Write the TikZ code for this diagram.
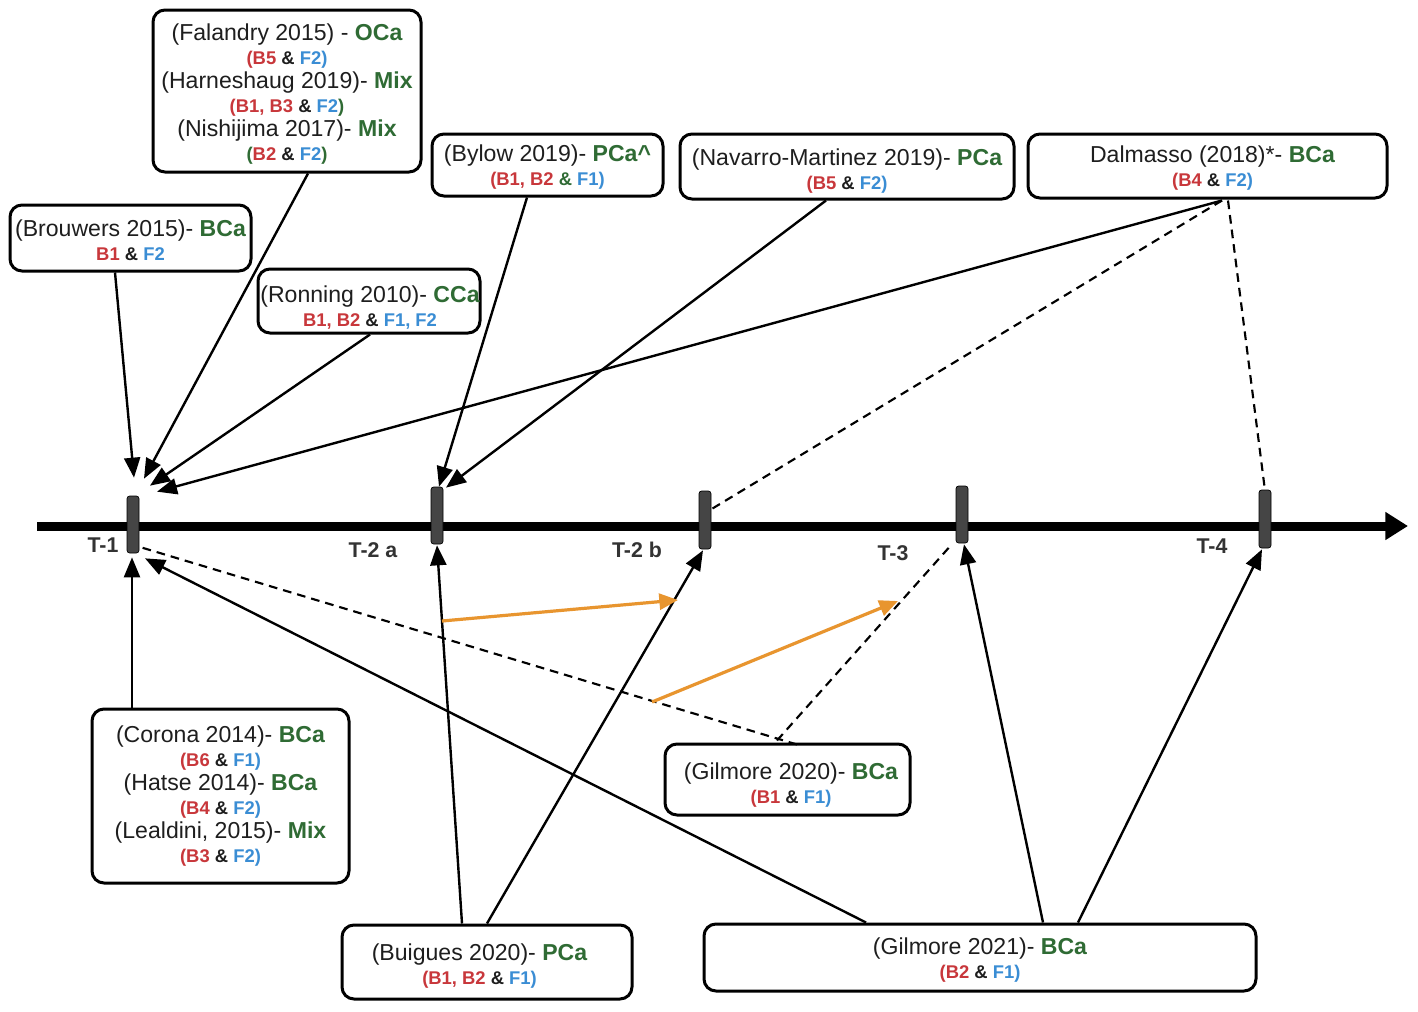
\documentclass[tikz,border=0pt]{standalone}
\usepackage{fontspec}
\setmainfont{Liberation Sans}
\usetikzlibrary{arrows.meta,calc}
\definecolor{cred}{HTML}{C8373B}
\definecolor{cblue}{HTML}{3A8DD4}
\definecolor{cgreen}{HTML}{2F6B34}
\definecolor{corange}{HTML}{E8952F}
\definecolor{ctick}{HTML}{454545}
\definecolor{ctext}{HTML}{1E1E1E}
\definecolor{clabel}{HTML}{333333}
\newcommand{\myR}[1]{\textcolor{cred}{#1}}
\newcommand{\myB}[1]{\textcolor{cblue}{#1}}
\newcommand{\myG}[1]{\textcolor{cgreen}{#1}}
\newcommand{\gb}[1]{\textcolor{cgreen}{\bfseries #1}}
\newcommand{\mainf}{\fontsize{17.3}{18}\selectfont}
\newcommand{\subf}{\fontsize{13.8}{18}\selectfont\bfseries}
\begin{document}
\begin{tikzpicture}[x=0.75pt,y=-0.75pt,
  box/.style={draw=black, line width=2.25pt, rounded corners=9pt, inner sep=0pt, fill=white},
  txt/.style={align=center, font=\mainf, text=ctext, inner sep=0pt},
  tick/.style={draw=black, line width=0.5pt, fill=ctick, rounded corners=2pt,
    minimum width=9pt, inner sep=0pt},
  tlab/.style={font=\fontsize{16}{16}\selectfont\bfseries, text=clabel},
  arr/.style={line width=1.8pt, draw=black, -{Triangle[length=15pt,width=12pt]}},
  dsh/.style={line width=1.6pt, draw=black, dash pattern=on 6.5pt off 4.5pt},
  oarr/.style={line width=2.4pt, draw=corange, -{Triangle[length=14pt,width=12pt]}, color=corange}
]
\useasboundingbox (0,0) rectangle (1418,1011);
\fill[white] (0,0) rectangle (1418,1011);

% timeline
\coordinate (tl0) at (37,526);
\coordinate (tl1) at (1408,526);
\draw[line width=6.75pt, -{Triangle[length=17pt,width=20pt]}] (tl0) -- (tl1);

% ticks
\node[tick, minimum height=42.75pt] (t1) at (133,524.5) {};
\node[tick, minimum height=42.75pt] (t2a) at (437,515.5) {};
\node[tick, minimum height=43.5pt] (t2b) at (705,520) {};
\node[tick, minimum height=42.75pt] (t3) at (962,514.5) {};
\node[tick, minimum height=43.5pt] (t4) at (1265,519) {};

% tick labels
\node[tlab] (l1) at (103,545) {T-1};
\node[tlab] (l2a) at (373,550) {T-2 a};
\node[tlab] (l2b) at (637,550) {T-2 b};
\node[tlab] (l3) at (893,553) {T-3};
\node[tlab] (l4) at (1212,546) {T-4};

% boxes
\node[box, minimum width=201pt, minimum height=121.5pt] (fal) at (287,91) {};
\node[txt] (falt) at ($(fal.center)+(0,3.5)$)
 {(Falandry 2015) - \gb{OCa}\\
  {\subf\myR{(B5} \& \myB{F2)}}\\
  (Harneshaug 2019)- \gb{Mix}\\
  {\subf\myR{(B1, B3} \& \myB{F2}\myG{)}}\\
  (Nishijima 2017)- \gb{Mix}\\
  {\subf\myG{(}\myR{B2} \& \myB{F2}\myG{)}}};
\node[box, minimum width=180.75pt, minimum height=49.5pt] (bro) at (130.5,238) {};
\node[txt] (brot) at ($(bro.center)+(0,2.5)$)
 {(Brouwers 2015)- \gb{BCa}\\ {\subf\myR{B1} \& \myB{F2}}};
\node[box, minimum width=166.5pt, minimum height=48pt] (ron) at (369,301) {};
\node[txt] (ront) at ($(ron.center)+(1,7)$)
 {(Ronning 2010)- \gb{CCa}\\ {\subf\myR{B1, B2} \& \myB{F1, F2}}};
\node[box, minimum width=173.25pt, minimum height=46.5pt] (byl) at (547.5,165) {};
\node[txt] (bylt) at ($(byl.center)+(0,2)$)
 {(Bylow 2019)- \gb{PCa\textasciicircum}\\ {\subf\myR{(B1, B2} \myG{\&} \myB{F1)}}};
\node[box, minimum width=250.5pt, minimum height=48.75pt] (nav) at (847,166.5) {};
\node[txt] (navt) at ($(nav.center)+(0,5)$)
 {(Navarro-Martinez 2019)- \gb{PCa}\\ {\subf\myR{(B5} \& \myB{F2)}}};
\node[box, minimum width=269.25pt, minimum height=48pt] (dal) at (1207.5,166) {};
\node[txt] (dalt) at ($(dal.center)+(5,2.5)$)
 {Dalmasso (2018)*- \gb{BCa}\\ {\subf\myR{(B4} \& \myB{F2)}}};
\node[box, minimum width=192.75pt, minimum height=130.5pt] (cor) at (220.5,796) {};
\node[txt] (cort) at ($(cor.center)+(0,0.5)$)
 {(Corona 2014)- \gb{BCa}\\
  {\subf\myR{(B6} \& \myB{F1)}}\\
  (Hatse 2014)- \gb{BCa}\\
  {\subf\myR{(B4} \& \myB{F2)}}\\
  (Lealdini, 2015)- \gb{Mix}\\
  {\subf\myR{(B3} \& \myB{F2)}}};
\node[box, minimum width=183.75pt, minimum height=53.25pt] (g20) at (787.5,779.5) {};
\node[txt] (g20t) at ($(g20.center)+(3.5,5.5)$)
 {(Gilmore 2020)- \gb{BCa}\\ {\subf\myR{(B1} \& \myB{F1)}}};
\node[box, minimum width=217.5pt, minimum height=55.5pt] (bui) at (487,962) {};
\node[txt] (buit) at ($(bui.center)+(-7.5,4)$)
 {(Buigues 2020)- \gb{PCa}\\ {\subf\myR{(B1, B2} \& \myB{F1)}}};
\node[box, minimum width=414pt, minimum height=50.25pt] (g21) at (980,957.5) {};
\node[txt] (g21t) at ($(g21.center)+(0,3)$)
 {(Gilmore 2021)- \gb{BCa}\\ {\subf\myR{(B2} \& \myB{F1)}}};

% solid arrows to T-1
\draw[arr] ($(bro.south)+(-15.5,0)$) -- ($(t1.north)+(1,-18)$);
\draw[arr] ($(fal.south)+(21,0)$) -- ($(t1.north)+(11,-17)$);
\draw[arr] ($(ron.south)+(1,0)$) -- ($(t1.north)+(17,-10)$);
\draw[arr] ($(dal.south)+(14.5,1)$) -- ($(t1.north)+(24,-4)$);
\draw[arr] ($(cor.north)+(-88.5,0)$) -- ($(t1.south)+(-1,4)$);
\draw[arr] ($(g21.north)+(-114,0)$) -- ($(t1.south)+(12,5)$);
% arrows to T-2a
\draw[arr] ($(byl.south)+(-20.5,0)$) -- ($(t2a.north)+(2,0)$);
\draw[arr] ($(nav.south)+(-21,0)$) -- ($(t2a.north)+(9,1)$);
\draw[arr] ($(bui.north)+(-25,0)$) -- ($(t2a.south)+(0,1)$);
% arrows to T-2b, T-3, T-4
\draw[arr] ($(bui.north)+(0,0)$) -- ($(t2b.south)+(-2,1)$);
\draw[arr] ($(g21.north)+(63,0)$) -- ($(t3.south)+(2,1)$);
\draw[arr] ($(g21.north)+(98,0)$) -- ($(t4.south)+(-3,1)$);

% dashed connectors
\draw[dsh] ($(dal.south)+(14.5,1)$) -- ($(t2b.center)+(5,-10)$);
\draw[dsh] ($(dal.south)+(20.5,1)$) -- ($(t4.north)+(0,1)$);
\draw[dsh] ($(g20.north)+(9.5,2)$) -- ($(t1.south)+(8,-6)$);
\draw[dsh] ($(g20.north)+(-10.5,-2)$) -- ($(t3.south)+(-12,3)$);

% orange arrows
\coordinate (o1s) at (442,621);
\coordinate (o1e) at (678,600);
\coordinate (o2s) at (652,702);
\coordinate (o2e) at (898,601);
\draw[oarr] (o1s) -- (o1e);
\draw[oarr] (o2s) -- (o2e);
\end{tikzpicture}
\end{document}
